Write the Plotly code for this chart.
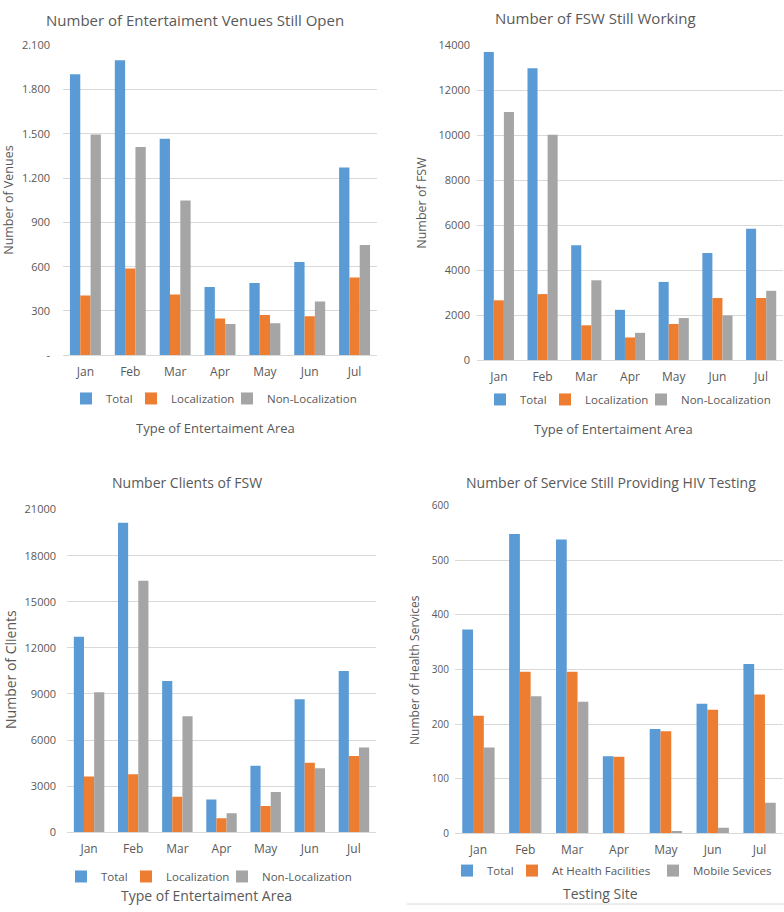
import plotly.graph_objects as go

months = ["Jan", "Feb", "Mar", "Apr", "May", "Jun", "Jul"]

# Panel 1: entertainment venues still open
venues_total = [1905, 2000, 1467, 462, 489, 631, 1273]
venues_loc = [404, 587, 411, 249, 273, 264, 527]
venues_nonloc = [1496, 1411, 1049, 211, 216, 364, 747]
venues_ticks = [0, 300, 600, 900, 1200, 1500, 1800, 2100]
venues_ticktext = ["-", "300", "600", "900", "1.200", "1.500", "1.800", "2.100"]

# Panel 2: FSW still working
fsw_total = [13700, 12980, 5115, 2236, 3478, 4764, 5846]
fsw_loc = [2660, 2937, 1549, 1008, 1608, 2762, 2762]
fsw_nonloc = [11033, 10025, 3551, 1213, 1871, 1987, 3084]
fsw_ticks = [0, 2000, 4000, 6000, 8000, 10000, 12000, 14000]

# Panel 3: clients of FSW
cli_total = [12728, 20147, 9850, 2132, 4328, 8656, 10489]
cli_loc = [3624, 3774, 2302, 917, 1706, 4520, 4967]
cli_nonloc = [9103, 16373, 7547, 1237, 2622, 4157, 5522]
cli_ticks = [0, 3000, 6000, 9000, 12000, 15000, 18000, 21000]

# Panel 4: services still providing HIV testing
hiv_total = [373, 548, 538, 141, 191, 237, 310]
hiv_facility = [215, 296, 296, 140, 187, 226, 254]
hiv_mobile = [157, 251, 241, 0, 4, 10, 56]
hiv_ticks = [0, 100, 200, 300, 400, 500, 600]

BLUE = "#5b9bd5"
ORANGE = "#ed7d31"
GRAY = "#a5a5a5"
TXT = "#595959"
GRID = "#d9d9d9"
FONT = "Open Sans"

W, H = 784, 912


def xd(a, b):
    return [a / W, b / W]


def yd(top, bottom):
    return [1 - bottom / H, 1 - top / H]


fig = go.Figure()

loc_names = ["Total", "Localization", "Non-Localization"]
hiv_names = ["Total", "At Health Facilities", "Mobile Sevices"]
loc_widths = [20, 51, None]
hiv_widths = [20, 96, None]

panels = [
    ("x", "y", "legend", [venues_total, venues_loc, venues_nonloc], loc_names, loc_widths),
    ("x2", "y2", "legend2", [fsw_total, fsw_loc, fsw_nonloc], loc_names, loc_widths),
    ("x3", "y3", "legend3", [cli_total, cli_loc, cli_nonloc], loc_names, loc_widths),
    ("x4", "y4", "legend4", [hiv_total, hiv_facility, hiv_mobile], hiv_names, hiv_widths),
]
colors = [BLUE, ORANGE, GRAY]

for xa, ya, lg, series, names, widths in panels:
    for vals, name, col, lw in zip(series, names, colors, widths):
        tr = go.Bar(x=months, y=vals, name=name, marker_color=col,
                    marker_line_width=0, xaxis=xa, yaxis=ya, legend=lg)
        if lw:
            tr.legendwidth = lw
        fig.add_trace(tr)

axis_common = dict(showgrid=False, showline=True, linecolor=GRID, linewidth=1,
                   ticks="", tickfont=dict(family=FONT, size=12, color=TXT),
                   ticklabelstandoff=5)


def yax(size, standoff):
    return dict(showgrid=True, gridcolor=GRID, gridwidth=1, zeroline=False,
                showline=False, ticks="", tickformat="d",
                tickfont=dict(family=FONT, size=size, color=TXT),
                ticklabelstandoff=standoff)


fig.update_layout(
    width=W, height=H,
    margin=dict(l=0, r=0, t=0, b=0),
    paper_bgcolor="white", plot_bgcolor="white",
    font=dict(family=FONT, color=TXT),
    barmode="group", bargap=0.31, bargroupgap=0,
    xaxis=dict(domain=xd(63, 377), anchor="y", **axis_common),
    yaxis=dict(domain=yd(38, 353), anchor="x", range=[0, 2100],
               tickvals=venues_ticks, ticktext=venues_ticktext, **yax(11, 12)),
    xaxis2=dict(domain=xd(477, 783), anchor="y2", **axis_common),
    yaxis2=dict(domain=yd(38, 358), anchor="x2", range=[0, 14000],
                tickvals=fsw_ticks, **yax(11, 6)),
    xaxis3=dict(domain=xd(67, 376), anchor="y3", **axis_common),
    yaxis3=dict(domain=yd(510, 838), anchor="x3", range=[0, 21000],
                tickvals=cli_ticks, **yax(11, 10)),
    xaxis4=dict(domain=xd(455, 783), anchor="y4", **axis_common),
    yaxis4=dict(domain=yd(506, 839), anchor="x4", range=[0, 600],
                tickvals=hiv_ticks, **yax(10, 5)),
)

legend_common = dict(orientation="h", xanchor="left", yanchor="middle",
                     bgcolor="rgba(0,0,0,0)",
                     font=dict(family=FONT, size=11.5, color=TXT),
                     itemwidth=30, tracegroupgap=0)
fig.update_layout(
    legend=dict(x=66 / W, y=1 - 397 / H, **legend_common),
    legend2=dict(x=480 / W, y=1 - 398 / H, **legend_common),
    legend3=dict(x=61 / W, y=1 - 883 / H, **legend_common),
    legend4=dict(x=447 / W, y=1 - 877 / H, **legend_common),
)

annotations = [
    # titles
    dict(text="Number of Entertaiment Venues Still Open", x=195, y=12, size=15),
    dict(text="Number of FSW Still Working", x=595, y=10, size=15),
    dict(text="Number Clients of FSW", x=187, y=482, size=14),
    dict(text="Number of Service Still Providing HIV Testing", x=611, y=482, size=14),
    # x-axis titles
    dict(text="Type of Entertaiment Area", x=215, y=427, size=13),
    dict(text="Type of Entertaiment Area", x=613, y=428, size=13),
    dict(text="Type of Entertaiment Area", x=207, y=902, size=14),
    dict(text="Testing Site", x=600, y=900, size=14),
]
for a in annotations:
    fig.add_annotation(text=a["text"], x=a["x"] / W, y=1 - a["y"] / H,
                       xref="paper", yref="paper", showarrow=False,
                       xanchor="center", yanchor="middle",
                       font=dict(family=FONT, size=a["size"], color=TXT))

ytitles = [
    ("Number of Venues", 9, 196, 12.5),
    ("Number of FSW", 422, 198, 12.5),
    ("Number of Clients", 11, 673, 14),
    ("Number of Health Services", 415, 673, 12),
]
for t, x, y, s in ytitles:
    fig.add_annotation(text=t, x=x / W, y=1 - y / H, xref="paper", yref="paper",
                       showarrow=False, textangle=-90, xanchor="center",
                       yanchor="middle",
                       font=dict(family=FONT, size=s, color=TXT))

fig.add_shape(type="line", xref="paper", yref="paper",
              x0=407 / W, x1=1, y0=1 - 911 / H, y1=1 - 911 / H,
              line=dict(color=GRID, width=1))

fig.write_html("out.html",
               config={"displayModeBar": False},
               post_script="document.body.style.margin='0px';"
                           "document.body.style.overflow='hidden';")
